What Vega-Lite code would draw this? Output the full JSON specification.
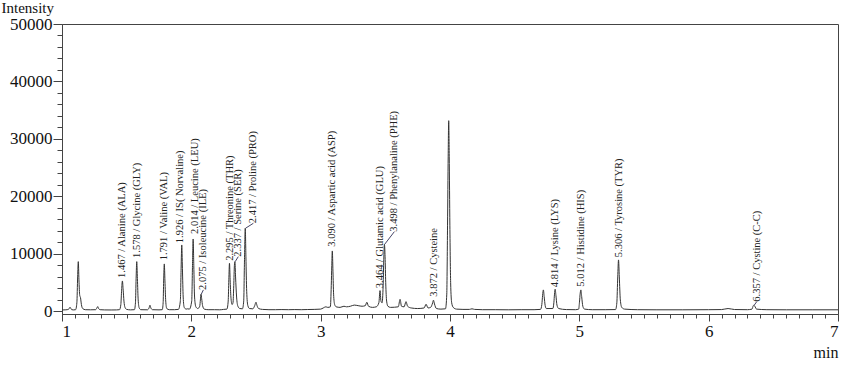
{
  "$schema": "https://vega.github.io/schema/vega-lite/v6.json",
  "width": 776,
  "height": 290,
  "autosize": {"type": "none"},
  "padding": {"left": 62, "top": 24, "right": 12, "bottom": 51},
  "background": "white",
  "view": {"stroke": "#444", "strokeWidth": 1},
  "config": {
    "font": "Liberation Serif",
    "axis": {"labelFont": "Liberation Serif", "titleFont": "Liberation Serif", "labelColor": "#111", "titleColor": "#111", "domainColor": "#444", "tickColor": "#444", "grid": false}
  },
  "datasets": {
    "trace": [
      {"t":1.000,"v":250},{"t":1.03,"v":280},{"t":1.05,"v":350},{"t":1.062,"v":730},{"t":1.075,"v":300},{"t":1.09,"v":260},{"t":1.105,"v":300},{"t":1.115,"v":1500},{"t":1.121,"v":6000},{"t":1.126,"v":8660},{"t":1.131,"v":5500},{"t":1.137,"v":2800},{"t":1.143,"v":2400},{"t":1.15,"v":1200},{"t":1.16,"v":500},{"t":1.18,"v":300},{"t":1.22,"v":280},{"t":1.26,"v":300},{"t":1.27,"v":600},{"t":1.276,"v":840},{"t":1.283,"v":500},{"t":1.295,"v":300},{"t":1.33,"v":260},{"t":1.38,"v":250},{"t":1.42,"v":260},{"t":1.445,"v":300},{"t":1.455,"v":1200},{"t":1.461,"v":3700},{"t":1.467,"v":5300},{"t":1.473,"v":3700},{"t":1.479,"v":1800},{"t":1.487,"v":700},{"t":1.5,"v":350},{"t":1.53,"v":270},{"t":1.56,"v":300},{"t":1.568,"v":1500},{"t":1.573,"v":5700},{"t":1.578,"v":8660},{"t":1.583,"v":5700},{"t":1.589,"v":2000},{"t":1.597,"v":600},{"t":1.61,"v":300},{"t":1.66,"v":280},{"t":1.673,"v":600},{"t":1.68,"v":1080},{"t":1.687,"v":600},{"t":1.7,"v":300},{"t":1.75,"v":270},{"t":1.775,"v":300},{"t":1.782,"v":1500},{"t":1.786,"v":5300},{"t":1.791,"v":8260},{"t":1.796,"v":5300},{"t":1.802,"v":1800},{"t":1.81,"v":500},{"t":1.83,"v":300},{"t":1.87,"v":300},{"t":1.9,"v":350},{"t":1.915,"v":1800},{"t":1.921,"v":7500},{"t":1.926,"v":11560},{"t":1.931,"v":7500},{"t":1.937,"v":2500},{"t":1.945,"v":700},{"t":1.96,"v":400},{"t":1.97,"v":450},{"t":1.985,"v":400},{"t":2.003,"v":1800},{"t":2.009,"v":8000},{"t":2.014,"v":12600},{"t":2.019,"v":8000},{"t":2.025,"v":2500},{"t":2.035,"v":800},{"t":2.05,"v":500},{"t":2.065,"v":900},{"t":2.07,"v":2000},{"t":2.075,"v":3000},{"t":2.08,"v":2200},{"t":2.087,"v":1000},{"t":2.1,"v":400},{"t":2.13,"v":300},{"t":2.18,"v":300},{"t":2.22,"v":280},{"t":2.25,"v":350},{"t":2.275,"v":400},{"t":2.285,"v":1800},{"t":2.29,"v":5500},{"t":2.295,"v":8380},{"t":2.3,"v":5500},{"t":2.306,"v":2500},{"t":2.315,"v":1200},{"t":2.322,"v":1500},{"t":2.328,"v":4500},{"t":2.333,"v":8000},{"t":2.337,"v":8660},{"t":2.342,"v":6000},{"t":2.35,"v":2500},{"t":2.36,"v":900},{"t":2.375,"v":500},{"t":2.395,"v":450},{"t":2.405,"v":1800},{"t":2.411,"v":9000},{"t":2.417,"v":14470},{"t":2.422,"v":9500},{"t":2.428,"v":3500},{"t":2.437,"v":1000},{"t":2.45,"v":500},{"t":2.475,"v":450},{"t":2.49,"v":1000},{"t":2.5,"v":1600},{"t":2.508,"v":1000},{"t":2.52,"v":500},{"t":2.55,"v":350},{"t":2.6,"v":300},{"t":2.65,"v":300},{"t":2.7,"v":320},{"t":2.75,"v":300},{"t":2.8,"v":320},{"t":2.85,"v":300},{"t":2.9,"v":330},{"t":2.95,"v":350},{"t":3.0,"v":400},{"t":3.02,"v":600},{"t":3.04,"v":800},{"t":3.055,"v":700},{"t":3.075,"v":800},{"t":3.082,"v":4500},{"t":3.086,"v":8000},{"t":3.09,"v":10520},{"t":3.095,"v":7000},{"t":3.1,"v":3000},{"t":3.108,"v":1200},{"t":3.12,"v":800},{"t":3.15,"v":700},{"t":3.18,"v":900},{"t":3.2,"v":800},{"t":3.23,"v":900},{"t":3.26,"v":1100},{"t":3.29,"v":1000},{"t":3.32,"v":900},{"t":3.345,"v":1000},{"t":3.357,"v":1600},{"t":3.37,"v":900},{"t":3.4,"v":700},{"t":3.43,"v":800},{"t":3.45,"v":1500},{"t":3.459,"v":3620},{"t":3.466,"v":1800},{"t":3.475,"v":1500},{"t":3.483,"v":4500},{"t":3.488,"v":9000},{"t":3.493,"v":11680},{"t":3.498,"v":9500},{"t":3.503,"v":5000},{"t":3.51,"v":1800},{"t":3.52,"v":900},{"t":3.54,"v":700},{"t":3.6,"v":800},{"t":3.614,"v":2100},{"t":3.625,"v":900},{"t":3.645,"v":800},{"t":3.66,"v":1700},{"t":3.672,"v":900},{"t":3.7,"v":600},{"t":3.75,"v":500},{"t":3.8,"v":600},{"t":3.815,"v":1250},{"t":3.83,"v":600},{"t":3.85,"v":700},{"t":3.866,"v":1500},{"t":3.872,"v":1950},{"t":3.88,"v":1300},{"t":3.895,"v":500},{"t":3.93,"v":400},{"t":3.965,"v":450},{"t":3.975,"v":3000},{"t":3.981,"v":15000},{"t":3.986,"v":27000},{"t":3.99,"v":33180},{"t":3.994,"v":27000},{"t":3.999,"v":15000},{"t":4.005,"v":5000},{"t":4.013,"v":1500},{"t":4.025,"v":700},{"t":4.05,"v":400},{"t":4.1,"v":350},{"t":4.15,"v":350},{"t":4.17,"v":450},{"t":4.19,"v":350},{"t":4.25,"v":300},{"t":4.35,"v":300},{"t":4.45,"v":280},{"t":4.55,"v":300},{"t":4.65,"v":300},{"t":4.7,"v":350},{"t":4.71,"v":1200},{"t":4.716,"v":2800},{"t":4.722,"v":3740},{"t":4.728,"v":2600},{"t":4.736,"v":1000},{"t":4.745,"v":500},{"t":4.795,"v":500},{"t":4.803,"v":1500},{"t":4.808,"v":3000},{"t":4.813,"v":3860},{"t":4.819,"v":2800},{"t":4.827,"v":1100},{"t":4.84,"v":500},{"t":4.9,"v":320},{"t":4.97,"v":300},{"t":4.995,"v":400},{"t":5.001,"v":1600},{"t":5.007,"v":3200},{"t":5.012,"v":3740},{"t":5.018,"v":2600},{"t":5.027,"v":900},{"t":5.04,"v":400},{"t":5.1,"v":300},{"t":5.2,"v":300},{"t":5.28,"v":320},{"t":5.29,"v":1500},{"t":5.297,"v":6000},{"t":5.303,"v":8960},{"t":5.309,"v":6000},{"t":5.317,"v":2000},{"t":5.328,"v":700},{"t":5.35,"v":400},{"t":5.45,"v":300},{"t":5.6,"v":280},{"t":5.8,"v":280},{"t":6.0,"v":300},{"t":6.1,"v":320},{"t":6.15,"v":500},{"t":6.2,"v":330},{"t":6.3,"v":300},{"t":6.335,"v":400},{"t":6.345,"v":1000},{"t":6.35,"v":1080},{"t":6.357,"v":900},{"t":6.37,"v":400},{"t":6.45,"v":300},{"t":6.6,"v":280},{"t":6.8,"v":280},{"t":7.0,"v":280}
    ],
    "labels": [
      {"t":1.467,"v":5830,"label":"1.467 / Alanine (ALA)"},
      {"t":1.578,"v":9300,"label":"1.578 / Glycine (GLY)"},
      {"t":1.791,"v":8900,"label":"1.791 / Valine (VAL)"},
      {"t":1.914,"v":11860,"label":"1.926 / IS( Norvaline)"},
      {"t":2.027,"v":13480,"label":"2.014 / Leucine (LEU)"},
      {"t":2.093,"v":3740,"label":"2.075 / Isoleucine (ILE)"},
      {"t":2.299,"v":8800,"label":"2.295 / Threonine (THR)"},
      {"t":2.363,"v":9530,"label":"2.337 / Serine (SER)"},
      {"t":2.48,"v":15340,"label":"2.417 / Proline (PRO)"},
      {"t":3.09,"v":11270,"label":"3.090 / Aspartic acid (ASP)"},
      {"t":3.459,"v":4030,"label":"3.464 / Glutamic acid (GLU)"},
      {"t":3.57,"v":13880,"label":"3.498 / Phenylanaline (PHE)"},
      {"t":3.876,"v":2570,"label":"3.872 / Cysteine"},
      {"t":4.813,"v":4210,"label":"4.814 / Lysine (LYS)"},
      {"t":5.012,"v":4310,"label":"5.012 / Histidine (HIS)"},
      {"t":5.303,"v":9430,"label":"5.306 / Tyrosine (TYR)"},
      {"t":6.372,"v":1700,"label":"6.357 / Cystine (C-C)"}
    ],
    "leaders": [
      {"t":2.077,"v":3000,"t2":2.093,"v2":3740},
      {"t":2.339,"v":8660,"t2":2.363,"v2":9530},
      {"t":2.419,"v":14470,"t2":2.48,"v2":15340},
      {"t":3.495,"v":11680,"t2":3.57,"v2":13880},
      {"t":6.352,"v":1080,"t2":6.372,"v2":1700}
    ]
  },
  "layer": [
    {
      "data": {"name": "trace"},
      "mark": {"type": "line", "color": "#333", "strokeWidth": 1, "interpolate": "monotone"},
      "encoding": {
        "x": {"field": "t", "type": "quantitative", "scale": {"domain": [1, 7], "nice": false, "zero": false},
          "axis": {"orient": "bottom", "values": [1,2,3,4,5,6,7], "tickSize": 7, "labelFontSize": 17, "labelPadding": 2, "format": "d", "title": "min", "titleFontSize": 16, "titleFontWeight": "normal", "titleAlign": "right", "titleAnchor": null, "titleX": 776, "titleY": 43, "titleBaseline": "alphabetic"}},
        "y": {"field": "v", "type": "quantitative", "scale": {"domain": [-450, 50000], "nice": false, "zero": false},
          "axis": {"orient": "left", "values": [0,10000,20000,30000,40000,50000], "tickSize": 9, "labelFontSize": 17, "labelPadding": 1, "format": "d", "title": "Intensity", "titleFontSize": 15, "titleFontWeight": "normal", "titleAngle": 0, "titleAlign": "left", "titleAnchor": null, "titleX": -61, "titleY": -12, "titleBaseline": "alphabetic"}}
      }
    },
    {
      "data": {"name": "leaders"},
      "mark": {"type": "rule", "color": "#446", "strokeWidth": 1},
      "encoding": {
        "x": {"field": "t", "type": "quantitative",
          "axis": {"orient": "bottom", "values": [1.1,1.2,1.3,1.4,1.5,1.6,1.7,1.8,1.9,2.1,2.2,2.3,2.4,2.5,2.6,2.7,2.8,2.9,3.1,3.2,3.3,3.4,3.5,3.6,3.7,3.8,3.9,4.1,4.2,4.3,4.4,4.5,4.6,4.7,4.8,4.9,5.1,5.2,5.3,5.4,5.5,5.6,5.7,5.8,5.9,6.1,6.2,6.3,6.4,6.5,6.6,6.7,6.8,6.9], "tickSize": 4, "labels": false, "domain": false, "title": null}},
        "y": {"field": "v", "type": "quantitative",
          "axis": {"orient": "left", "values": [2000,4000,6000,8000,12000,14000,16000,18000,22000,24000,26000,28000,32000,34000,36000,38000,42000,44000,46000,48000], "tickSize": 5, "labels": false, "domain": false, "title": null}},
        "x2": {"field": "t2"},
        "y2": {"field": "v2"}
      }
    },
    {
      "data": {"name": "labels"},
      "mark": {"type": "text", "angle": 270, "align": "left", "baseline": "middle", "font": "Liberation Serif", "fontSize": 10.5, "color": "#222"},
      "encoding": {
        "x": {"field": "t", "type": "quantitative", "axis": null},
        "y": {"field": "v", "type": "quantitative", "axis": null},
        "text": {"field": "label"}
      }
    }
  ],
  "resolve": {"axis": {"x": "independent", "y": "independent"}}
}
